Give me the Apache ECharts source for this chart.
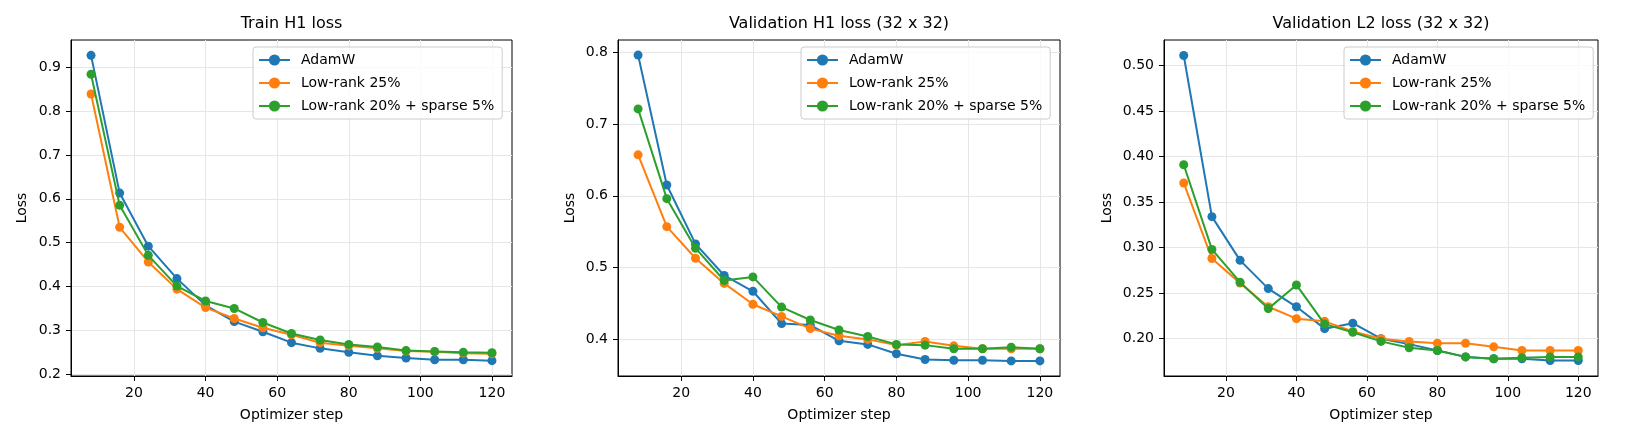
<!DOCTYPE html>
<html>
<head>
<meta charset="utf-8">
<script src="https://cdn.jsdelivr.net/npm/echarts@6/dist/echarts.min.js"></script>
<style>
  html, body { margin: 0; padding: 0; background: #fff; }
  #main { width: 1650px; height: 440px; }
</style>
</head>
<body>
<div id="main"></div>
<script>
var steps = [8, 16, 24, 32, 40, 48, 56, 64, 72, 80, 88, 96, 104, 112, 120];
var seriesNames = ['AdamW', 'Low-rank 25%', 'Low-rank 20% + sparse 5%'];
var colors = ['#1f77b4', '#ff7f0e', '#2ca02c'];
var titles = ['Train H1 loss', 'Validation H1 loss (32 x 32)', 'Validation L2 loss (32 x 32)'];

// train H1
var trainAdam = [0.927, 0.613, 0.492, 0.418, 0.357, 0.320, 0.297, 0.272, 0.259, 0.250, 0.242, 0.237, 0.233, 0.233, 0.231];
var trainLow = [0.839, 0.535, 0.456, 0.394, 0.352, 0.327, 0.306, 0.290, 0.272, 0.265, 0.259, 0.253, 0.251, 0.248, 0.247];
var trainSparse = [0.884, 0.585, 0.471, 0.401, 0.367, 0.350, 0.318, 0.293, 0.278, 0.268, 0.262, 0.254, 0.252, 0.250, 0.249];
// val H1
var valH1Adam = [0.796, 0.615, 0.533, 0.489, 0.467, 0.422, 0.420, 0.398, 0.393, 0.380, 0.372, 0.371, 0.371, 0.370, 0.370];
var valH1Low = [0.657, 0.557, 0.513, 0.478, 0.449, 0.432, 0.415, 0.405, 0.400, 0.392, 0.397, 0.391, 0.387, 0.387, 0.387];
var valH1Sparse = [0.721, 0.596, 0.527, 0.482, 0.487, 0.445, 0.427, 0.413, 0.404, 0.393, 0.392, 0.387, 0.387, 0.389, 0.387];
// val L2
var valL2Adam = [0.511, 0.334, 0.286, 0.255, 0.235, 0.211, 0.217, 0.200, 0.194, 0.187, 0.180, 0.178, 0.178, 0.176, 0.176];
var valL2Low = [0.371, 0.288, 0.261, 0.235, 0.222, 0.219, 0.208, 0.200, 0.197, 0.195, 0.195, 0.191, 0.187, 0.187, 0.187];
var valL2Sparse = [0.391, 0.298, 0.262, 0.233, 0.259, 0.216, 0.207, 0.197, 0.190, 0.187, 0.180, 0.178, 0.179, 0.180, 0.180];

var xTicks = [20, 40, 60, 80, 100, 120];
var yTicks1 = [0.2, 0.3, 0.4, 0.5, 0.6, 0.7, 0.8, 0.9];
var yTicks2 = [0.4, 0.5, 0.6, 0.7, 0.8];
var yTicks3 = [0.20, 0.25, 0.30, 0.35, 0.40, 0.45, 0.50];

var panels = [
  { data: [trainAdam, trainLow, trainSparse], ticks: yTicks1, min: 0.196, max: 0.962, dec: 1, nameGap: 42 },
  { data: [valH1Adam, valH1Low, valH1Sparse], ticks: yTicks2, min: 0.349, max: 0.817, dec: 1, nameGap: 41 },
  { data: [valL2Adam, valL2Low, valL2Sparse], ticks: yTicks3, min: 0.159, max: 0.528, dec: 2, nameGap: 50 }
];
// plot areas in px: left, right edge
var boxes = [[71, 512], [618, 1060], [1164, 1598]];
var legendPos = [253, 801, 1344];

var font = 'DejaVu Sans';
var grids = [], xAxes = [], yAxes = [], series = [], titleList = [], legends = [];

panels.forEach(function (p, i) {
  var b = boxes[i];
  grids.push({
    left: b[0], width: b[1] - b[0], top: 40, height: 336,
    show: true, borderColor: '#000', borderWidth: 1, backgroundColor: 'transparent'
  });
  titleList.push({
    text: titles[i], left: (b[0] + b[1]) / 2, top: 16, textAlign: 'center', padding: 0,
    textStyle: { fontFamily: font, fontSize: 16, fontWeight: 'normal', color: '#000' }
  });
  xAxes.push({
    gridIndex: i, type: 'value', min: 2.4, max: 125.6,
    name: 'Optimizer step', nameLocation: 'middle', nameGap: 32,
    nameTextStyle: { fontFamily: font, fontSize: 14, color: '#000' },
    axisLine: { show: true, onZero: false, lineStyle: { color: '#000', width: 1 } },
    axisTick: { show: true, length: 5, lineStyle: { color: '#000' }, customValues: xTicks },
    axisLabel: { fontFamily: font, fontSize: 14, color: '#000', margin: 10, customValues: xTicks },
    splitLine: { show: true, lineStyle: { color: '#e6e6e6', width: 1 } }
  });
  yAxes.push({
    gridIndex: i, type: 'value', min: p.min, max: p.max,
    name: 'Loss', nameLocation: 'middle', nameGap: p.nameGap, nameRotate: 90,
    nameTextStyle: { fontFamily: font, fontSize: 14, color: '#000' },
    axisLine: { show: true, onZero: false, lineStyle: { color: '#000', width: 1 } },
    axisTick: { show: true, length: 5, lineStyle: { color: '#000' }, customValues: p.ticks },
    axisLabel: {
      fontFamily: font, fontSize: 14, color: '#000', margin: 10, customValues: p.ticks,
      formatter: (function (d) { return function (v) { return v.toFixed(d); }; })(p.dec)
    },
    splitLine: { show: true, lineStyle: { color: '#e6e6e6', width: 1 } }
  });
  p.data.forEach(function (vals, k) {
    series.push({
      name: seriesNames[k], type: 'line', xAxisIndex: i, yAxisIndex: i,
      data: steps.map(function (s, j) { return [s, vals[j]]; }),
      symbol: 'circle', symbolSize: 9, showSymbol: true,
      lineStyle: { width: 2, color: colors[k] },
      itemStyle: { color: colors[k] },
      z: 2 + k
    });
  });
  legends.push({
    left: legendPos[i], top: 47, orient: 'vertical',
    data: seriesNames, itemWidth: 31, itemHeight: 14, itemGap: 9,
    padding: [6, 8, 6, 5],
    backgroundColor: 'rgba(255,255,255,0.8)', borderColor: '#cccccc', borderWidth: 1, borderRadius: 3,
    textStyle: { fontFamily: font, fontSize: 14, color: '#000', padding: [0, 0, 0, 6] }
  });
});

var chart = echarts.init(document.getElementById('main'), null, { renderer: 'canvas' });
chart.setOption({
  animation: false,
  backgroundColor: '#fff',
  color: colors,
  title: titleList,
  legend: legends,
  grid: grids,
  xAxis: xAxes,
  yAxis: yAxes,
  series: series
});
</script>
</body>
</html>
